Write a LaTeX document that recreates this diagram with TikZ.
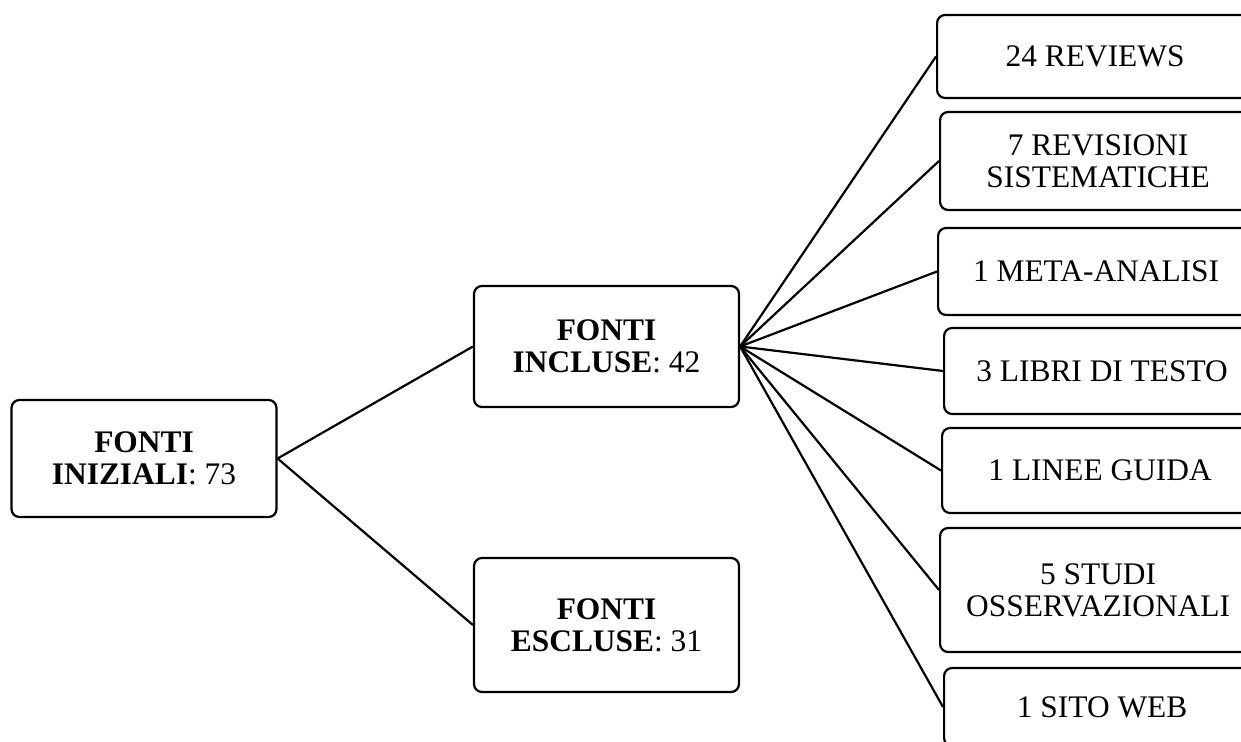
\documentclass[tikz,border=0pt]{standalone}
\usepackage{fontspec}
\setmainfont{Liberation Serif}
\begin{document}
\begin{tikzpicture}[
      x=0.5pt, y=-0.5pt,
      box/.style={draw,line width=1.1pt,rounded corners=4pt,align=center,inner sep=2pt,
                  font=\fontsize{15.7}{16}\selectfont},
      mainbox/.style={box,minimum width=132.5pt},
      subbox/.style={box,anchor=west,minimum width=158pt},
      branch/.style={line width=1.1pt}
    ]
    \path[use as bounding box,clip] (0,0) rectangle (1241,742);
    % Draw the main boxes.
    \node[mainbox,minimum height=58.5pt] (ini) at (144,458.5) {\textbf{FONTI}\\\textbf{INIZIALI}: 73};
    \node[mainbox,minimum height=60.5pt] (inc) at (606.5,346.5) {\textbf{FONTI}\\\textbf{INCLUSE}: 42};
    \node[mainbox,minimum height=67pt]   (esc) at (606.5,625) {\textbf{FONTI}\\\textbf{ESCLUSE}: 31};
    % Draw the sub boxes.
    \node[subbox,minimum height=41.5pt] (rev)   at (936,56.5)  {24 REVIEWS};
    \node[subbox,minimum height=49pt]   (sis)   at (939,161)   {7 REVISIONI\\SISTEMATICHE};
    \node[subbox,minimum height=43.5pt] (meta)  at (937,271.5) {1 META-ANALISI};
    \node[subbox,minimum height=43pt]   (libri) at (943,371)   {3 LIBRI DI TESTO};
    \node[subbox,minimum height=42.5pt] (linee) at (941,470.5) {1 LINEE GUIDA};
    \node[subbox,minimum height=62pt]   (studi) at (939,590)   {5 STUDI\\OSSERVAZIONALI};
    \node[subbox,minimum height=39pt]   (sito)  at (943,707)   {1 SITO WEB};
    % Draw the branches.
    \draw[branch] (ini.east) -- (inc.west);
    \draw[branch] (ini.east) -- (esc.west);
    \foreach \n in {rev,sis,meta,libri,linee,studi,sito}
      \draw[branch] (inc.east) -- (\n.west);
\end{tikzpicture}
\end{document}
